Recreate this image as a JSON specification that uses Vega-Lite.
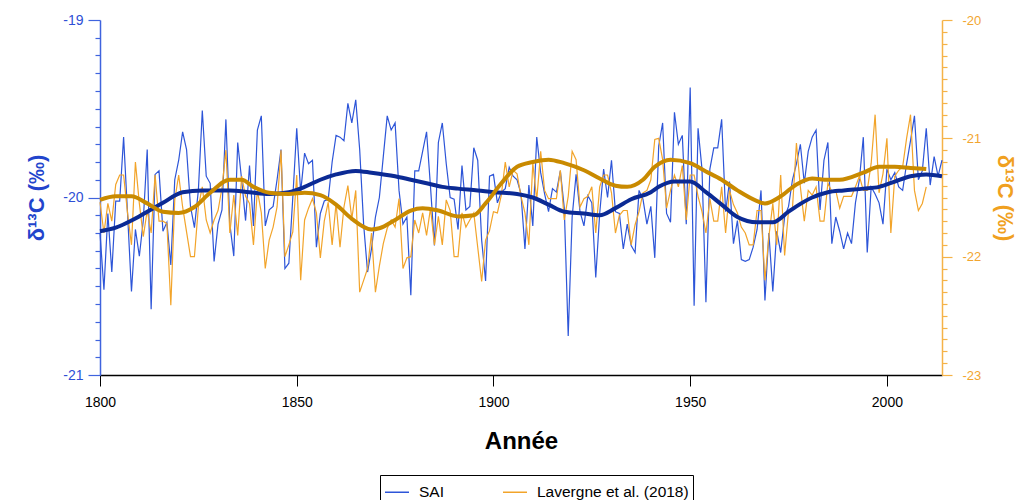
{
  "$schema": "https://vega.github.io/schema/vega-lite/v6.json",
  "autosize": {"type": "none"},
  "width": 842,
  "height": 355,
  "padding": {"left": 100, "top": 20, "right": 73, "bottom": 125},
  "background": "white",
  "config": {
    "view": {"stroke": null},
    "font": "Liberation Sans",
    "axis": {"grid": false, "labelFont": "Liberation Sans", "titleFont": "Liberation Sans", "labelFlush": false},
    "legend": {"labelFont": "Liberation Sans"}
  },
  "datasets": {
    "sai": [
      {"year":1800,"v":-20.20},{"year":1801,"v":-20.52},{"year":1802,"v":-20.09},{"year":1803,"v":-20.42},{"year":1804,"v":-20.02},{"year":1805,"v":-20.02},{"year":1806,"v":-19.66},{"year":1807,"v":-20.09},{"year":1808,"v":-20.53},{"year":1809,"v":-20.18},
      {"year":1810,"v":-20.33},{"year":1811,"v":-20.13},{"year":1812,"v":-19.73},{"year":1813,"v":-20.63},{"year":1814,"v":-19.87},{"year":1815,"v":-19.85},{"year":1816,"v":-20.19},{"year":1817,"v":-20.14},{"year":1818,"v":-20.38},{"year":1819,"v":-19.90},
      {"year":1820,"v":-19.79},{"year":1821,"v":-19.63},{"year":1822,"v":-19.73},{"year":1823,"v":-20.05},{"year":1824,"v":-20.17},{"year":1825,"v":-19.96},{"year":1826,"v":-19.51},{"year":1827,"v":-19.88},{"year":1828,"v":-19.92},{"year":1829,"v":-20.36},
      {"year":1830,"v":-20.15},{"year":1831,"v":-20.07},{"year":1832,"v":-19.56},{"year":1833,"v":-20.15},{"year":1834,"v":-20.33},{"year":1835,"v":-19.69},{"year":1836,"v":-19.90},{"year":1837,"v":-20.13},{"year":1838,"v":-19.82},{"year":1839,"v":-20.16},
      {"year":1840,"v":-19.62},{"year":1841,"v":-19.54},{"year":1842,"v":-20.16},{"year":1843,"v":-20.07},{"year":1844,"v":-20.05},{"year":1845,"v":-19.90},{"year":1846,"v":-19.73},{"year":1847,"v":-20.40},{"year":1848,"v":-20.37},{"year":1849,"v":-20.00},
      {"year":1850,"v":-19.61},{"year":1851,"v":-19.97},{"year":1852,"v":-19.75},{"year":1853,"v":-19.81},{"year":1854,"v":-19.79},{"year":1855,"v":-20.28},{"year":1856,"v":-20.09},{"year":1857,"v":-20.02},{"year":1858,"v":-20.01},{"year":1859,"v":-19.80},
      {"year":1860,"v":-19.65},{"year":1861,"v":-19.66},{"year":1862,"v":-19.68},{"year":1863,"v":-19.47},{"year":1864,"v":-19.58},{"year":1865,"v":-19.45},{"year":1866,"v":-19.73},{"year":1867,"v":-20.15},{"year":1868,"v":-20.42},{"year":1869,"v":-20.29},
      {"year":1870,"v":-20.11},{"year":1871,"v":-20.00},{"year":1872,"v":-19.77},{"year":1873,"v":-19.54},{"year":1874,"v":-19.62},{"year":1875,"v":-19.58},{"year":1876,"v":-19.96},{"year":1877,"v":-20.15},{"year":1878,"v":-20.11},{"year":1879,"v":-20.55},
      {"year":1880,"v":-19.85},{"year":1881,"v":-19.85},{"year":1882,"v":-19.74},{"year":1883,"v":-19.63},{"year":1884,"v":-19.94},{"year":1885,"v":-20.27},{"year":1886,"v":-19.69},{"year":1887,"v":-19.58},{"year":1888,"v":-19.81},{"year":1889,"v":-20.00},
      {"year":1890,"v":-20.01},{"year":1891,"v":-20.18},{"year":1892,"v":-19.82},{"year":1893,"v":-20.07},{"year":1894,"v":-20.05},{"year":1895,"v":-19.72},{"year":1896,"v":-19.79},{"year":1897,"v":-20.24},{"year":1898,"v":-20.47},{"year":1899,"v":-19.88},
      {"year":1900,"v":-19.87},{"year":1901,"v":-20.03},{"year":1902,"v":-19.97},{"year":1903,"v":-19.95},{"year":1904,"v":-19.83},{"year":1905,"v":-19.88},{"year":1906,"v":-19.90},{"year":1907,"v":-19.98},{"year":1908,"v":-20.29},{"year":1909,"v":-19.93},
      {"year":1910,"v":-20.16},{"year":1911,"v":-19.66},{"year":1912,"v":-19.86},{"year":1913,"v":-19.98},{"year":1914,"v":-20.08},{"year":1915,"v":-19.95},{"year":1916,"v":-19.97},{"year":1917,"v":-19.85},{"year":1918,"v":-20.06},{"year":1919,"v":-20.78},
      {"year":1920,"v":-20.11},{"year":1921,"v":-19.87},{"year":1922,"v":-20.08},{"year":1923,"v":-20.16},{"year":1924,"v":-19.99},{"year":1925,"v":-20.03},{"year":1926,"v":-20.45},{"year":1927,"v":-20.09},{"year":1928,"v":-19.84},{"year":1929,"v":-20.00},
      {"year":1930,"v":-19.79},{"year":1931,"v":-20.08},{"year":1932,"v":-20.09},{"year":1933,"v":-20.29},{"year":1934,"v":-20.15},{"year":1935,"v":-20.27},{"year":1936,"v":-20.31},{"year":1937,"v":-19.96},{"year":1938,"v":-20.01},{"year":1939,"v":-20.15},
      {"year":1940,"v":-20.05},{"year":1941,"v":-20.34},{"year":1942,"v":-19.71},{"year":1943,"v":-19.58},{"year":1944,"v":-20.09},{"year":1945,"v":-20.14},{"year":1946,"v":-19.52},{"year":1947,"v":-19.70},{"year":1948,"v":-19.65},{"year":1949,"v":-20.15},
      {"year":1950,"v":-19.38},{"year":1951,"v":-20.61},{"year":1952,"v":-19.61},{"year":1953,"v":-19.84},{"year":1954,"v":-20.59},{"year":1955,"v":-19.84},{"year":1956,"v":-19.72},{"year":1957,"v":-19.72},{"year":1958,"v":-19.56},{"year":1959,"v":-20.08},
      {"year":1960,"v":-19.91},{"year":1961,"v":-20.26},{"year":1962,"v":-20.13},{"year":1963,"v":-20.35},{"year":1964,"v":-20.36},{"year":1965,"v":-20.35},{"year":1966,"v":-20.28},{"year":1967,"v":-20.18},{"year":1968,"v":-19.96},{"year":1969,"v":-20.58},
      {"year":1970,"v":-20.20},{"year":1971,"v":-20.53},{"year":1972,"v":-20.19},{"year":1973,"v":-20.31},{"year":1974,"v":-20.11},{"year":1975,"v":-20.05},{"year":1976,"v":-19.90},{"year":1977,"v":-19.81},{"year":1978,"v":-19.70},{"year":1979,"v":-19.92},
      {"year":1980,"v":-19.74},{"year":1981,"v":-19.66},{"year":1982,"v":-19.62},{"year":1983,"v":-20.07},{"year":1984,"v":-19.79},{"year":1985,"v":-19.69},{"year":1986,"v":-20.26},{"year":1987,"v":-20.11},{"year":1988,"v":-20.19},{"year":1989,"v":-20.29},
      {"year":1990,"v":-20.20},{"year":1991,"v":-20.26},{"year":1992,"v":-20.03},{"year":1993,"v":-19.90},{"year":1994,"v":-19.66},{"year":1995,"v":-20.31},{"year":1996,"v":-19.94},{"year":1997,"v":-19.98},{"year":1998,"v":-20.03},{"year":1999,"v":-20.15},
      {"year":2000,"v":-19.84},{"year":2001,"v":-19.90},{"year":2002,"v":-19.86},{"year":2003,"v":-19.94},{"year":2004,"v":-19.96},{"year":2005,"v":-19.81},{"year":2006,"v":-19.68},{"year":2007,"v":-19.54},{"year":2008,"v":-19.90},{"year":2009,"v":-19.85},
      {"year":2010,"v":-19.61},{"year":2011,"v":-19.93},{"year":2012,"v":-19.77},{"year":2013,"v":-19.88},{"year":2014,"v":-19.79}
    ],
    "lav": [
      {"year":1800,"v":-21.54},{"year":1801,"v":-21.80},{"year":1802,"v":-21.55},{"year":1803,"v":-21.70},{"year":1804,"v":-21.39},{"year":1805,"v":-21.31},{"year":1806,"v":-21.31},{"year":1807,"v":-21.63},{"year":1808,"v":-21.90},{"year":1809,"v":-21.20},
      {"year":1810,"v":-21.55},{"year":1811,"v":-21.83},{"year":1812,"v":-21.61},{"year":1813,"v":-21.80},{"year":1814,"v":-21.31},{"year":1815,"v":-21.70},{"year":1816,"v":-21.70},{"year":1817,"v":-21.72},{"year":1818,"v":-22.41},{"year":1819,"v":-21.52},
      {"year":1820,"v":-21.31},{"year":1821,"v":-21.58},{"year":1822,"v":-21.79},{"year":1823,"v":-22.00},{"year":1824,"v":-22.00},{"year":1825,"v":-21.58},{"year":1826,"v":-21.41},{"year":1827,"v":-21.69},{"year":1828,"v":-21.80},{"year":1829,"v":-21.69},
      {"year":1830,"v":-21.61},{"year":1831,"v":-21.42},{"year":1832,"v":-21.10},{"year":1833,"v":-21.80},{"year":1834,"v":-21.48},{"year":1835,"v":-21.82},{"year":1836,"v":-21.32},{"year":1837,"v":-21.49},{"year":1838,"v":-21.55},{"year":1839,"v":-21.90},
      {"year":1840,"v":-21.44},{"year":1841,"v":-21.63},{"year":1842,"v":-22.10},{"year":1843,"v":-21.86},{"year":1844,"v":-21.75},{"year":1845,"v":-21.58},{"year":1846,"v":-21.10},{"year":1847,"v":-22.00},{"year":1848,"v":-21.90},{"year":1849,"v":-21.79},
      {"year":1850,"v":-21.31},{"year":1851,"v":-22.20},{"year":1852,"v":-21.69},{"year":1853,"v":-21.59},{"year":1854,"v":-21.51},{"year":1855,"v":-21.63},{"year":1856,"v":-22.01},{"year":1857,"v":-21.70},{"year":1858,"v":-21.54},{"year":1859,"v":-21.90},
      {"year":1860,"v":-21.55},{"year":1861,"v":-21.92},{"year":1862,"v":-21.58},{"year":1863,"v":-21.40},{"year":1864,"v":-21.68},{"year":1865,"v":-21.44},{"year":1866,"v":-22.30},{"year":1867,"v":-22.20},{"year":1868,"v":-22.10},{"year":1869,"v":-21.80},
      {"year":1870,"v":-22.30},{"year":1871,"v":-22.08},{"year":1872,"v":-21.89},{"year":1873,"v":-21.76},{"year":1874,"v":-21.69},{"year":1875,"v":-21.75},{"year":1876,"v":-21.51},{"year":1877,"v":-22.10},{"year":1878,"v":-22.01},{"year":1879,"v":-22.00},
      {"year":1880,"v":-21.69},{"year":1881,"v":-21.80},{"year":1882,"v":-21.63},{"year":1883,"v":-21.82},{"year":1884,"v":-21.59},{"year":1885,"v":-21.90},{"year":1886,"v":-21.66},{"year":1887,"v":-21.90},{"year":1888,"v":-21.52},{"year":1889,"v":-21.61},
      {"year":1890,"v":-22.00},{"year":1891,"v":-22.00},{"year":1892,"v":-21.63},{"year":1893,"v":-21.75},{"year":1894,"v":-21.69},{"year":1895,"v":-21.63},{"year":1896,"v":-21.92},{"year":1897,"v":-22.21},{"year":1898,"v":-21.86},{"year":1899,"v":-21.78},
      {"year":1900,"v":-21.62},{"year":1901,"v":-21.63},{"year":1902,"v":-21.48},{"year":1903,"v":-21.20},{"year":1904,"v":-21.41},{"year":1905,"v":-21.27},{"year":1906,"v":-21.30},{"year":1907,"v":-21.49},{"year":1908,"v":-21.63},{"year":1909,"v":-21.90},
      {"year":1910,"v":-21.21},{"year":1911,"v":-21.52},{"year":1912,"v":-21.11},{"year":1913,"v":-21.44},{"year":1914,"v":-21.51},{"year":1915,"v":-21.51},{"year":1916,"v":-21.51},{"year":1917,"v":-21.27},{"year":1918,"v":-21.69},{"year":1919,"v":-21.49},
      {"year":1920,"v":-21.11},{"year":1921,"v":-21.18},{"year":1922,"v":-21.58},{"year":1923,"v":-21.51},{"year":1924,"v":-21.49},{"year":1925,"v":-21.41},{"year":1926,"v":-21.80},{"year":1927,"v":-21.41},{"year":1928,"v":-21.31},{"year":1929,"v":-21.31},
      {"year":1930,"v":-21.46},{"year":1931,"v":-21.80},{"year":1932,"v":-21.65},{"year":1933,"v":-21.61},{"year":1934,"v":-21.61},{"year":1935,"v":-21.90},{"year":1936,"v":-21.73},{"year":1937,"v":-21.62},{"year":1938,"v":-21.46},{"year":1939,"v":-21.44},
      {"year":1940,"v":-21.35},{"year":1941,"v":-21.01},{"year":1942,"v":-21.00},{"year":1943,"v":-21.18},{"year":1944,"v":-21.59},{"year":1945,"v":-21.44},{"year":1946,"v":-21.31},{"year":1947,"v":-21.41},{"year":1948,"v":-21.23},{"year":1949,"v":-21.69},
      {"year":1950,"v":-21.31},{"year":1951,"v":-21.31},{"year":1952,"v":-21.49},{"year":1953,"v":-21.62},{"year":1954,"v":-21.80},{"year":1955,"v":-21.51},{"year":1956,"v":-21.70},{"year":1957,"v":-21.70},{"year":1958,"v":-21.41},{"year":1959,"v":-21.80},
      {"year":1960,"v":-21.44},{"year":1961,"v":-21.56},{"year":1962,"v":-21.63},{"year":1963,"v":-21.75},{"year":1964,"v":-21.80},{"year":1965,"v":-21.90},{"year":1966,"v":-21.90},{"year":1967,"v":-21.61},{"year":1968,"v":-21.61},{"year":1969,"v":-22.20},
      {"year":1970,"v":-21.83},{"year":1971,"v":-21.55},{"year":1972,"v":-21.90},{"year":1973,"v":-21.31},{"year":1974,"v":-21.99},{"year":1975,"v":-21.61},{"year":1976,"v":-21.59},{"year":1977,"v":-21.04},{"year":1978,"v":-21.41},{"year":1979,"v":-21.70},
      {"year":1980,"v":-21.44},{"year":1981,"v":-21.48},{"year":1982,"v":-21.41},{"year":1983,"v":-21.70},{"year":1984,"v":-21.70},{"year":1985,"v":-21.38},{"year":1986,"v":-21.45},{"year":1987,"v":-21.44},{"year":1988,"v":-21.59},{"year":1989,"v":-21.49},
      {"year":1990,"v":-21.49},{"year":1991,"v":-21.49},{"year":1992,"v":-21.41},{"year":1993,"v":-21.32},{"year":1994,"v":-21.44},{"year":1995,"v":-21.44},{"year":1996,"v":-21.21},{"year":1997,"v":-20.80},{"year":1998,"v":-21.46},{"year":1999,"v":-21.30},
      {"year":2000,"v":-21.00},{"year":2001,"v":-21.80},{"year":2002,"v":-21.32},{"year":2003,"v":-21.27},{"year":2004,"v":-21.24},{"year":2005,"v":-21.00},{"year":2006,"v":-20.80},{"year":2007,"v":-21.44},{"year":2008,"v":-21.61},{"year":2009,"v":-21.55},
      {"year":2010,"v":-21.41}
    ],
    "saiS": [
      {"year":1800,"v":-20.19},{"year":1804,"v":-20.17},{"year":1808,"v":-20.13},{"year":1812,"v":-20.08},{"year":1816,"v":-20.03},{"year":1821,"v":-19.97},{"year":1826,"v":-19.96},{"year":1833,"v":-19.96},{"year":1838,"v":-19.97},{"year":1843,"v":-19.98},
      {"year":1848,"v":-19.97},{"year":1852,"v":-19.94},{"year":1856,"v":-19.90},{"year":1860,"v":-19.87},{"year":1865,"v":-19.85},{"year":1869,"v":-19.86},{"year":1875,"v":-19.88},{"year":1879,"v":-19.90},{"year":1883,"v":-19.92},{"year":1887,"v":-19.94},
      {"year":1891,"v":-19.95},{"year":1896,"v":-19.96},{"year":1900,"v":-19.97},{"year":1906,"v":-19.98},{"year":1910,"v":-20.00},{"year":1914,"v":-20.04},{"year":1918,"v":-20.08},{"year":1923,"v":-20.09},{"year":1927,"v":-20.10},{"year":1931,"v":-20.06},
      {"year":1935,"v":-20.01},{"year":1940,"v":-19.97},{"year":1942,"v":-19.94},{"year":1946,"v":-19.91},{"year":1950,"v":-19.91},{"year":1954,"v":-19.97},{"year":1958,"v":-20.04},{"year":1962,"v":-20.11},{"year":1967,"v":-20.14},{"year":1971,"v":-20.14},
      {"year":1975,"v":-20.08},{"year":1977,"v":-20.05},{"year":1981,"v":-20.00},{"year":1985,"v":-19.97},{"year":1989,"v":-19.96},{"year":1994,"v":-19.95},{"year":1998,"v":-19.94},{"year":2002,"v":-19.91},{"year":2006,"v":-19.88},{"year":2010,"v":-19.87},
      {"year":2014,"v":-19.88}
    ],
    "lavS": [
      {"year":1800,"v":-21.52},{"year":1804,"v":-21.49},{"year":1808,"v":-21.49},{"year":1812,"v":-21.55},{"year":1816,"v":-21.62},{"year":1820,"v":-21.63},{"year":1824,"v":-21.58},{"year":1828,"v":-21.46},{"year":1833,"v":-21.35},{"year":1836,"v":-21.35},
      {"year":1839,"v":-21.41},{"year":1843,"v":-21.46},{"year":1848,"v":-21.47},{"year":1852,"v":-21.46},{"year":1856,"v":-21.48},{"year":1860,"v":-21.56},{"year":1864,"v":-21.68},{"year":1869,"v":-21.77},{"year":1871,"v":-21.76},{"year":1875,"v":-21.69},
      {"year":1879,"v":-21.61},{"year":1882,"v":-21.59},{"year":1886,"v":-21.61},{"year":1891,"v":-21.66},{"year":1895,"v":-21.65},{"year":1898,"v":-21.55},{"year":1902,"v":-21.38},{"year":1906,"v":-21.24},{"year":1910,"v":-21.20},{"year":1914,"v":-21.18},
      {"year":1918,"v":-21.21},{"year":1923,"v":-21.27},{"year":1927,"v":-21.34},{"year":1931,"v":-21.40},{"year":1934,"v":-21.41},{"year":1938,"v":-21.35},{"year":1941,"v":-21.24},{"year":1945,"v":-21.18},{"year":1950,"v":-21.21},{"year":1954,"v":-21.28},
      {"year":1958,"v":-21.35},{"year":1962,"v":-21.44},{"year":1967,"v":-21.53},{"year":1969,"v":-21.55},{"year":1973,"v":-21.49},{"year":1977,"v":-21.39},{"year":1981,"v":-21.34},{"year":1985,"v":-21.35},{"year":1988,"v":-21.35},{"year":1994,"v":-21.29},
      {"year":1998,"v":-21.24},{"year":2002,"v":-21.24},{"year":2006,"v":-21.25},{"year":2010,"v":-21.26}
    ]
  },
  "encoding": {
    "x": {
      "field": "year", "type": "quantitative",
      "scale": {"domain": [1800, 2014], "nice": false, "zero": false},
      "axis": {
        "values": [1800, 1850, 1900, 1950, 2000], "format": "d",
        "domainColor": "#000000", "domainWidth": 1.5, "tickColor": "#000000", "tickSize": 11, "tickWidth": 1,
        "labelColor": "#000000", "labelFontSize": 14, "labelPadding": 9,
        "title": "Année", "titleFontSize": 24, "titleFontWeight": "bold", "titleColor": "#000000", "titlePadding": 20
      }
    }
  },
  "layer": [
    {
      "data": {"name": "sai"},
      "mark": {"type": "line", "strokeWidth": 1.2},
      "encoding": {
        "y": {
          "field": "v", "type": "quantitative",
          "scale": {"domain": [-21, -19], "nice": false, "zero": false},
          "axis": {
            "orient": "left",
            "values": [-21, -20.9, -20.8, -20.7, -20.6, -20.5, -20.4, -20.3, -20.2, -20.1, -20, -19.9, -19.8, -19.7, -19.6, -19.5, -19.4, -19.3, -19.2, -19.1, -19],
            "labelExpr": "datum.value % 1 == 0 ? toString(datum.value) : ''",
            "tickSize": {"condition": {"test": "datum.value % 1 != 0", "value": 5}, "value": 12},
            "domainColor": "#3F63DE", "domainWidth": 1.5, "tickColor": "#3F63DE", "tickWidth": 1.2,
            "labelColor": "#2E4FD6", "labelFontSize": 14, "labelPadding": 5,
            "title": "δ¹³C (‰)", "titleColor": "#2244CC", "titleFontSize": 22, "titleFontWeight": "bold", "titlePadding": 14
          }
        },
        "color": {
          "datum": "SAI", "type": "nominal",
          "scale": {"domain": ["SAI", "Lavergne et al. (2018)"], "range": ["#2D55D8", "#F2A42A"]},
          "legend": {
            "orient": "none", "legendX": 280, "legendY": 455, "direction": "horizontal", "title": null,
            "symbolType": "stroke", "symbolSize": 576, "symbolStrokeWidth": 1.5,
            "labelFontSize": 15.5, "labelColor": "#000000", "labelOffset": 9, "labelLimit": 0,
            "columnPadding": 56, "padding": 4, "strokeColor": "#000000", "fillColor": "#ffffff"
          }
        }
      }
    },
    {
      "data": {"name": "lav"},
      "mark": {"type": "line", "strokeWidth": 1.2},
      "encoding": {
        "y": {
          "field": "v", "type": "quantitative",
          "scale": {"domain": [-23, -20], "nice": false, "zero": false},
          "axis": {
            "orient": "right",
            "values": [-23, -22.9, -22.8, -22.7, -22.6, -22.5, -22.4, -22.3, -22.2, -22.1, -22, -21.9, -21.8, -21.7, -21.6, -21.5, -21.4, -21.3, -21.2, -21.1, -21, -20.9, -20.8, -20.7, -20.6, -20.5, -20.4, -20.3, -20.2, -20.1, -20],
            "labelExpr": "datum.value % 1 == 0 ? toString(datum.value) : ''",
            "tickSize": {"condition": {"test": "datum.value % 1 != 0", "value": 5}, "value": 10},
            "domainColor": "#F5B247", "domainWidth": 1.5, "tickColor": "#F5B247", "tickWidth": 1.2,
            "labelColor": "#F2A530", "labelFontSize": 13, "labelPadding": 10,
            "title": "δ¹³C (‰)", "titleColor": "#F0A020", "titleFontSize": 22, "titleFontWeight": "bold", "titlePadding": 12
          }
        },
        "color": {"datum": "Lavergne et al. (2018)", "type": "nominal"}
      }
    },
    {
      "data": {"name": "saiS"},
      "mark": {"type": "line", "strokeWidth": 4, "color": "#0B2A94", "interpolate": "monotone"},
      "encoding": {
        "y": {"field": "v", "type": "quantitative", "scale": {"domain": [-21, -19], "nice": false, "zero": false}, "axis": null}
      }
    },
    {
      "data": {"name": "lavS"},
      "mark": {"type": "line", "strokeWidth": 4, "color": "#C98A00", "interpolate": "monotone"},
      "encoding": {
        "y": {"field": "v", "type": "quantitative", "scale": {"domain": [-23, -20], "nice": false, "zero": false}, "axis": null}
      }
    }
  ],
  "resolve": {"scale": {"y": "independent"}, "axis": {"y": "independent"}}
}
